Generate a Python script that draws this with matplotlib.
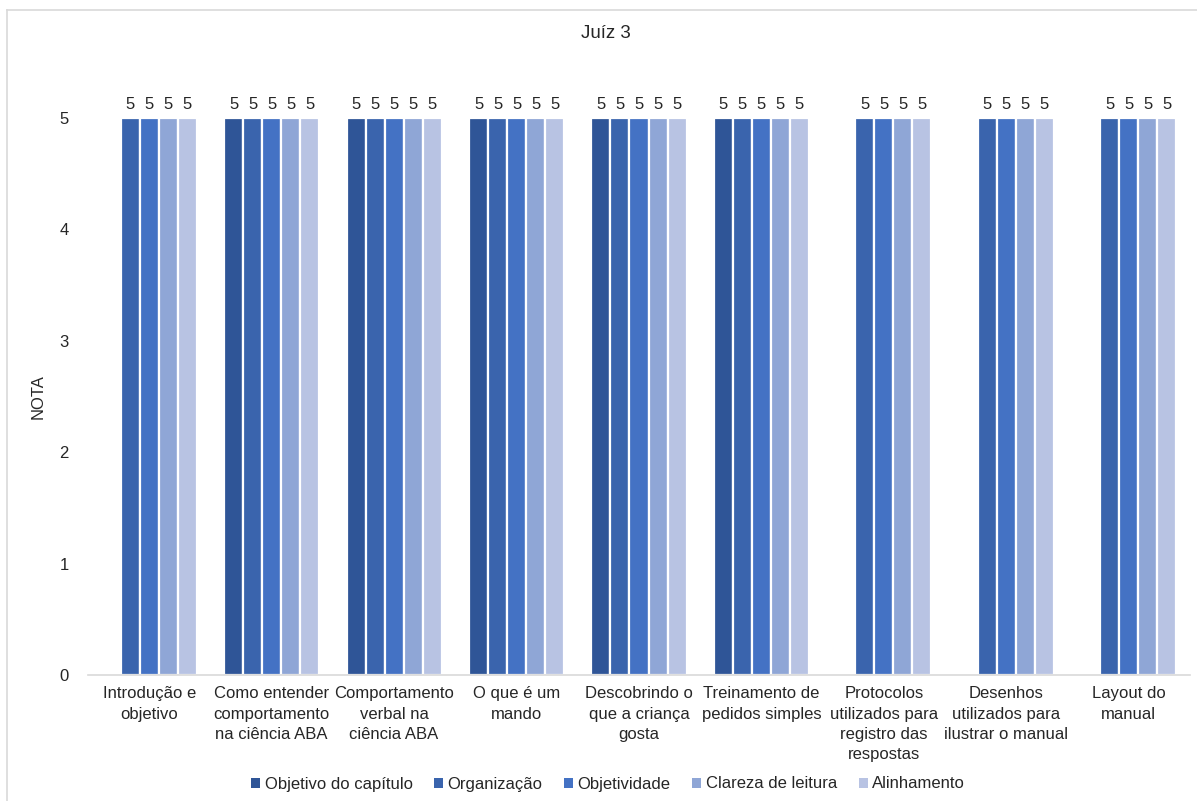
import numpy as np
import matplotlib.pyplot as plt
from matplotlib.patches import Patch
from matplotlib.lines import Line2D

plt.rcParams['font.family'] = ['Liberation Sans', 'DejaVu Sans']

categorias = [
    "Introdução e\nobjetivo",
    "Como entender\ncomportamento\nna ciência ABA",
    "Comportamento\nverbal na\nciência ABA",
    "O que é um\nmando",
    "Descobrindo o\nque a criança\ngosta",
    "Treinamento de\npedidos simples",
    "Protocolos\nutilizados para\nregistro das\nrespostas",
    "Desenhos\nutilizados para\nilustrar o manual",
    "Layout do\nmanual",
]
series = ["Objetivo do capítulo", "Organização", "Objetividade",
          "Clareza de leitura", "Alinhamento"]
nan = np.nan
objetivo_capitulo = [nan, 5, 5, 5, 5, 5, nan, nan, nan]
organizacao = [5, 5, 5, 5, 5, 5, 5, 5, 5]
objetividade = [5, 5, 5, 5, 5, 5, 5, 5, 5]
clareza_leitura = [5, 5, 5, 5, 5, 5, 5, 5, 5]
alinhamento = [5, 5, 5, 5, 5, 5, 5, 5, 5]
valores = [objetivo_capitulo, organizacao, objetividade, clareza_leitura, alinhamento]
cores = ["#2F5597", "#3A64AD", "#4472C4", "#8FA6D6", "#B8C3E3"]

fs = 12
cor_texto = '#262626'

fig = plt.figure(figsize=(11.97, 8.01), dpi=100)
ax = fig.add_axes([88 / 1197, 1 - 675 / 801, (1190 - 88) / 1197, (675 - 118) / 801])

x = np.arange(len(categorias))
slot = 19 / 122.4
for i, (nome, vals, cor) in enumerate(zip(series, valores, cores)):
    pos = x + (i - 2) * slot
    v = np.array(vals, dtype=float)
    ok = ~np.isnan(v)
    ax.bar(pos[ok], v[ok], width=slot, color=cor, edgecolor='white', linewidth=1.6, zorder=2)
    for px, pv in zip(pos[ok], v[ok]):
        ax.annotate(f"{pv:.0f}", (px, pv), xytext=(0, 4), textcoords='offset points',
                    ha='center', va='bottom', fontsize=fs, color=cor_texto, clip_on=False)

ax.set_xlim(-0.5, len(categorias) - 0.5)
ax.set_ylim(0, 5)
ax.set_yticks(range(6))
ax.set_xticks(x)
ax.set_xticklabels(categorias, fontsize=fs, color=cor_texto, linespacing=1.45)
ax.tick_params(axis='both', length=0, labelsize=fs, labelcolor=cor_texto)
ax.tick_params(axis='x', pad=8)
ax.tick_params(axis='y', pad=14)
for s in ['top', 'right', 'left']:
    ax.spines[s].set_visible(False)
ax.spines['bottom'].set_color('#D9D9D9')
ax.spines['bottom'].set_linewidth(1.2)
ax.set_ylabel("NOTA", fontsize=fs, color=cor_texto, labelpad=10)

fig.text(606 / 1197, 1 - 33 / 801, "Juíz 3", ha='center', va='center',
         fontsize=13.5, color=cor_texto)

handles = [Patch(facecolor=c, edgecolor='none') for c in cores]
fig.legend(handles, series, loc='center', bbox_to_anchor=(608 / 1197, 1 - 784 / 801),
           ncol=5, frameon=False, fontsize=fs, handlelength=0.55, handleheight=0.55,
           handletextpad=0.25, columnspacing=1.3, labelcolor=cor_texto)

# moldura do gráfico
fig.add_artist(Line2D([7 / 1197, 7 / 1197], [0, 1 - 10 / 801], color='#D9D9D9', lw=1.2))
fig.add_artist(Line2D([7 / 1197, 1], [1 - 10 / 801, 1 - 10 / 801], color='#D9D9D9', lw=1.2))

fig.savefig("out.png", dpi=100)
